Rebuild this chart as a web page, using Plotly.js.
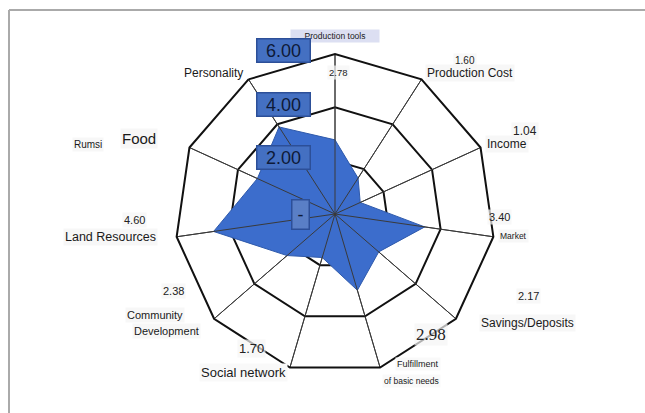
<!DOCTYPE html>
<html>
<head>
<meta charset="utf-8">
<script src="https://cdn.plot.ly/plotly-3.0.1.min.js"></script>
<style>html,body{margin:0;padding:0;background:#fff;}#chart{width:645px;height:413px;}</style>
</head>
<body>
<div id="chart"></div>
<script>
// ---- data ----
var categories = ["Production tools","Production Cost","Income","Market","Savings/Deposits",
  "Fulfillment of basic needs","Social network","Community Development","Land Resources",
  "Rumsi Food","Personality"];
var values = [2.78, 1.60, 1.04, 3.40, 2.17, 2.98, 1.70, 2.38, 4.60, 3.20, 3.88];
var valueLabels = ["2.78","1.60","1.04","3.40","2.17","2.98","1.70","2.38","4.60","",""];
var radialTicks = [0, 2, 4, 6];
var radialTickText = ["-", "2.00", "4.00", "6.00"];
var rMax = 6;

// ---- geometry (layout) ----
var W = 645, H = 413, CX = 335, CY = 214, R = 160;
function px(x){ return x / W; }
function py(y){ return 1 - y / H; }

// spokes drawn above the fill
var spokeR = [], spokeT = [];
categories.forEach(function(c){ spokeR.push(0, rMax, null); spokeT.push(c, c, c); });

var traces = [
  {
    type: "scatterpolar",
    r: values.concat([values[0]]),
    theta: categories.concat([categories[0]]),
    fill: "toself",
    fillcolor: "#3c6dcc",
    line: {color: "#2f5aab", width: 1},
    mode: "lines",
    hoverinfo: "skip"
  },
  {
    type: "scatterpolar",
    r: spokeR,
    theta: spokeT,
    mode: "lines",
    connectgaps: false,
    line: {color: "#3a3a3a", width: 1},
    hoverinfo: "skip"
  }
];

// label placement (layout only): [categoryIndex, wordsFrom, wordsTo, x, y, size, bg, boxWidth]
var catPlace = [
  [0, 0, 9, 335, 36, 8.5, "#dcdff2", 86],
  [1, 0, 9, 470, 73, 12, "#f7f7f7", null],
  [2, 0, 9, 507, 144, 12, "#f7f7f7", null],
  [3, 0, 9, 513, 236, 8.5, "#f7f7f7", null],
  [4, 0, 9, 527, 323, 12, "#f7f7f7", null],
  [5, 0, 1, 418, 364, 9, "#f9f9f9", null],
  [5, 1, 9, 411, 381, 8.5, "#f9f9f9", null],
  [6, 0, 9, 243, 372, 13, "#f9f9f9", null],
  [7, 0, 1, 155, 315, 11, "#f7f7f7", null],
  [7, 1, 9, 166, 331, 11, "#f7f7f7", null],
  [8, 0, 9, 110, 237, 12.5, "#f7f7f7", null],
  [9, 0, 1, 88, 144, 10, "#f7f7f7", null],
  [9, 1, 9, 139, 139, 15, "#f7f7f7", null],
  [10, 0, 9, 213, 73, 12, "rgba(0,0,0,0)", null]
];
// value label placement: [categoryIndex, x, y, size, family]
var valPlace = [
  [0, 338, 72, 9.5, "Liberation Sans"],
  [1, 465, 61, 10, "Liberation Sans"],
  [2, 525, 131, 12, "Liberation Sans"],
  [3, 499, 217, 11, "Liberation Sans"],
  [4, 528, 296, 11, "Liberation Sans"],
  [5, 431, 334, 17, "Liberation Serif, DejaVu Serif, serif"],
  [6, 251, 348, 13, "Liberation Sans"],
  [7, 173, 291, 11, "Liberation Sans"],
  [8, 134, 220, 11, "Liberation Sans"]
];

var annotations = [];
catPlace.forEach(function(p){
  var words = categories[p[0]].split(" ");
  var a = {
    xref: "paper", yref: "paper", x: px(p[3]), y: py(p[4]),
    xanchor: "center", yanchor: "middle", showarrow: false,
    text: words.slice(p[1], p[2]).join(" "),
    font: {family: "Liberation Sans", size: p[5], color: "#1a1a1a"},
    bgcolor: p[6], borderpad: 1
  };
  if (p[7]) { a.width = p[7]; }
  annotations.push(a);
});
valPlace.forEach(function(p){
  annotations.push({
    xref: "paper", yref: "paper", x: px(p[1]), y: py(p[2]),
    xanchor: "center", yanchor: "middle", showarrow: false,
    text: valueLabels[p[0]],
    font: {family: p[4], size: p[3], color: "#222"},
    bgcolor: "rgba(245,245,245,0.7)", borderpad: 1
  });
});
// radial tick boxes
radialTicks.forEach(function(v, i){
  var yPix = CY - R * v / rMax;
  var isZero = (v === 0);
  annotations.push({
    xref: "paper", yref: "paper",
    x: px(isZero ? 300 : 283), y: py(isZero ? yPix : yPix - 3),
    xanchor: "center", yanchor: "middle", showarrow: false,
    text: radialTickText[i],
    width: isZero ? 14 : 50, height: isZero ? 26 : 20,
    font: {family: "Liberation Sans", size: 18, color: "#0e1a38"},
    bgcolor: isZero ? "#5a7fc6" : "#4470c2",
    bordercolor: "#2c4f98", borderwidth: 1.5, borderpad: 1
  });
});

var layout = {
  width: W, height: H,
  margin: {l: 0, r: 0, t: 0, b: 0},
  paper_bgcolor: "#ffffff",
  showlegend: false,
  polar: {
    domain: {x: [px(CX - R), px(CX + R)], y: [py(CY + R), py(CY - R)]},
    bgcolor: "rgba(0,0,0,0)",
    gridshape: "linear",
    radialaxis: {
      range: [0, rMax], tickvals: radialTicks, showticklabels: false,
      ticks: "", showline: false, gridcolor: "#111", gridwidth: 2
    },
    angularaxis: {
      rotation: 90, direction: "clockwise", showticklabels: false, ticks: "",
      linecolor: "#111", linewidth: 2, gridcolor: "#3a3a3a", gridwidth: 1
    }
  },
  shapes: [
    {type: "line", xref: "paper", yref: "paper", x0: px(9), x1: 1, y0: py(10), y1: py(10),
     line: {color: "#aaaaaa", width: 2}},
    {type: "line", xref: "paper", yref: "paper", x0: px(9), x1: px(9), y0: py(10), y1: 0,
     line: {color: "#aaaaaa", width: 2}}
  ],
  annotations: annotations
};

Plotly.newPlot("chart", traces, layout, {displayModeBar: false, staticPlot: true});
</script>
</body>
</html>
